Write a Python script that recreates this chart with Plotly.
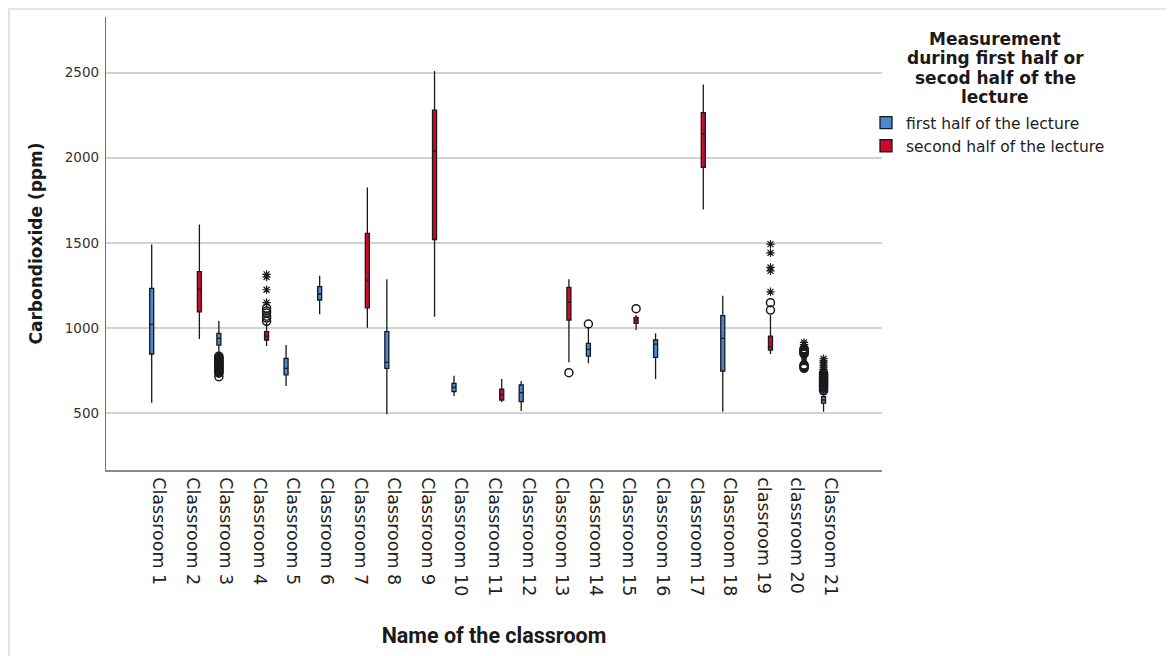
import plotly.graph_objects as go

# ---------------- data ----------------
classrooms = ["Classroom 1", "Classroom 2", "Classroom 3", "Classroom 4", "Classroom 5",
              "Classroom 6", "Classroom 7", "Classroom 8", "Classroom 9", "Classroom 10",
              "Classroom 11", "Classroom 12", "Classroom 13", "Classroom 14", "Classroom 15",
              "Classroom 16", "Classroom 17", "Classroom 18", "classroom 19", "classroom 20",
              "Classroom 21"]
half = ["first", "second", "first", "second", "first", "first", "second", "first", "second",
        "first", "second", "first", "second", "first", "second", "first", "second", "first",
        "second", "second", "first"]
lower_whisker = [562, 936, 845, 895, 660, 1081, 1002, 494, 1067, 601, 565, 513, 799, 793, 989,
                 701, 1696, 509, 848, 792, 509]
q1 = [848, 1096, 900, 930, 725, 1165, 1119, 764, 1520, 627, 578, 568, 1047, 836, 1028,
      828, 1943, 748, 871, 802, 559]
median = [1022, 1229, 940, 953, 764, 1200, 1282, 799, 2038, 652, 611, 621, 1151, 875, 1047,
          906, 2138, 940, 891, 813, 578]
q3 = [1233, 1331, 969, 979, 822, 1243, 1556, 979, 2279, 676, 641, 666, 1239, 910, 1063,
      930, 2265, 1073, 953, 826, 597]
upper_whisker = [1491, 1608, 1041, 1030, 900, 1307, 1825, 1286, 2509, 720, 701, 689, 1286, 1008,
                 1077, 969, 2430, 1190, 1077, 842, 625]

# outliers (circles) : classroom index (0-based) and value
circle_room = [2] * 21 + [3] * 6 + [12, 13, 14, 18, 18] + [19] * 12 + [20] * 17
circle_val = [835, 828, 822, 815, 810, 805, 800, 795, 790, 785, 780, 775, 770, 765, 760, 755,
              750, 745, 740, 735, 715,
              1117, 1100, 1088, 1070, 1059, 1040,
              738, 1024, 1114, 1149, 1106,
              848, 853, 858, 863, 868, 873, 878, 784, 779, 774, 769, 764,
              632, 640, 648, 655, 662, 668, 675, 682, 688, 695, 700, 706, 712, 718, 724, 730, 736]
# extreme values (asterisks)
star_room = [3] * 4 + [18] * 5 + [19] * 3 + [20] * 7
star_val = [1315, 1300, 1225, 1150,
            1493, 1442, 1356, 1336, 1213,
            890, 903, 916,
            745, 758, 770, 782, 795, 808, 820]

series_names = {"first": "first half of the lecture", "second": "second half of the lecture"}
series_colors = {"first": "#4a88d4", "second": "#cc0a30"}
legend_title_lines = ["Measurement", "during first half or", "secod half of the", "lecture"]
yticks = [500, 1000, 1500, 2000, 2500]

# ---------------- figure ----------------
OFFSET = 0.21
fig = go.Figure()

def pos(i, g):
    return i - OFFSET if g == "first" else i + OFFSET

for g in ["first", "second"]:
    idx = [i for i, h in enumerate(half) if h == g]
    fig.add_trace(go.Box(
        x=[pos(i, g) for i in idx],
        q1=[q1[i] for i in idx],
        median=[median[i] for i in idx],
        q3=[q3[i] for i in idx],
        lowerfence=[lower_whisker[i] for i in idx],
        upperfence=[upper_whisker[i] for i in idx],
        width=0.12,
        whiskerwidth=0,
        boxpoints=False,
        fillcolor=series_colors[g],
        line=dict(color="#1a1a1a", width=1.3),
        name=series_names[g],
        hoverinfo="skip",
    ))

fig.add_trace(go.Scatter(
    x=[pos(r, half[r]) for r in circle_room], y=circle_val, mode="markers",
    marker=dict(symbol="circle-open", size=8, color="#1a1a1a", line=dict(width=1.5)),
    showlegend=False, hoverinfo="skip"))
fig.add_trace(go.Scatter(
    x=[pos(r, half[r]) for r in star_room], y=star_val, mode="markers",
    marker=dict(symbol="asterisk-open", size=7, color="#1a1a1a", line=dict(width=1.2, color="#1a1a1a")),
    showlegend=False, hoverinfo="skip"))

# page coordinates (the page has an 8px body margin)
PAGE_OFF = 8
L, R, T, B = 106, 882, 17, 470          # plot area in page pixels
W, H = 1174 - PAGE_OFF, 656 - PAGE_OFF  # figure size
pw, ph = R - L, B - T

def px(x):
    return (x - L) / pw

def py(y):
    return (B - y) / ph

annotations = []
for k, (line, yc) in enumerate(zip(legend_title_lines, [38.5, 58, 77.5, 97])):
    annotations.append(dict(
        text="<b>%s</b>" % line, x=px(995), y=py(yc), xref="paper", yref="paper",
        xanchor="center", yanchor="middle", showarrow=False,
        font=dict(family="DejaVu Sans", size=17, color="#1a1a1a")))

fig.update_layout(
    width=W, height=H,
    margin=dict(l=L - PAGE_OFF, r=W - (R - PAGE_OFF), t=T - PAGE_OFF, b=H - (B - PAGE_OFF),
                autoexpand=False),
    paper_bgcolor="white", plot_bgcolor="white",
    boxmode="overlay",
    font=dict(family="DejaVu Sans", color="#222222"),
    xaxis=dict(
        range=[-1.57, 21.53], tickvals=list(range(len(classrooms))), ticktext=classrooms,
        tickangle=90, tickfont=dict(family="DejaVu Sans", size=17.5, color="#222222"),
        showgrid=False, zeroline=False, showline=True, linecolor="#8a8a8a", linewidth=1.5,
        ticks="", ticklabelstandoff=2,
        title=dict(text="<b>Name of the classroom</b>",
                   font=dict(family="Roboto", size=21.5, color="#1a1a1a"), standoff=33),
    ),
    yaxis=dict(
        range=[167, 2826], tickvals=yticks, ticktext=[str(v) for v in yticks],
        tickfont=dict(family="DejaVu Sans", size=13.5, color="#333333"),
        showgrid=True, gridcolor="#d2d2d2", gridwidth=1.8, zeroline=False,
        showline=True, linecolor="#707070", linewidth=1.3, ticks="", ticklabelstandoff=3,
        title=dict(text="<b>Carbondioxide (ppm)</b>",
                   font=dict(family="DejaVu Sans", size=17, color="#1a1a1a"), standoff=17),
    ),
    legend=dict(
        x=px(866), y=py(106), xanchor="left", yanchor="top",
        font=dict(family="DejaVu Sans", size=15.5, color="#222222"),
        bgcolor="rgba(0,0,0,0)", tracegroupgap=0, itemwidth=30,
    ),
    annotations=annotations,
    shapes=[dict(type="rect", xref="paper", yref="paper",
                 x0=px(9), x1=px(1168), y0=py(700), y1=py(9),
                 line=dict(color="#e4e4e4", width=2), fillcolor="rgba(0,0,0,0)", layer="below")],
)

fig.write_html("out.html")
